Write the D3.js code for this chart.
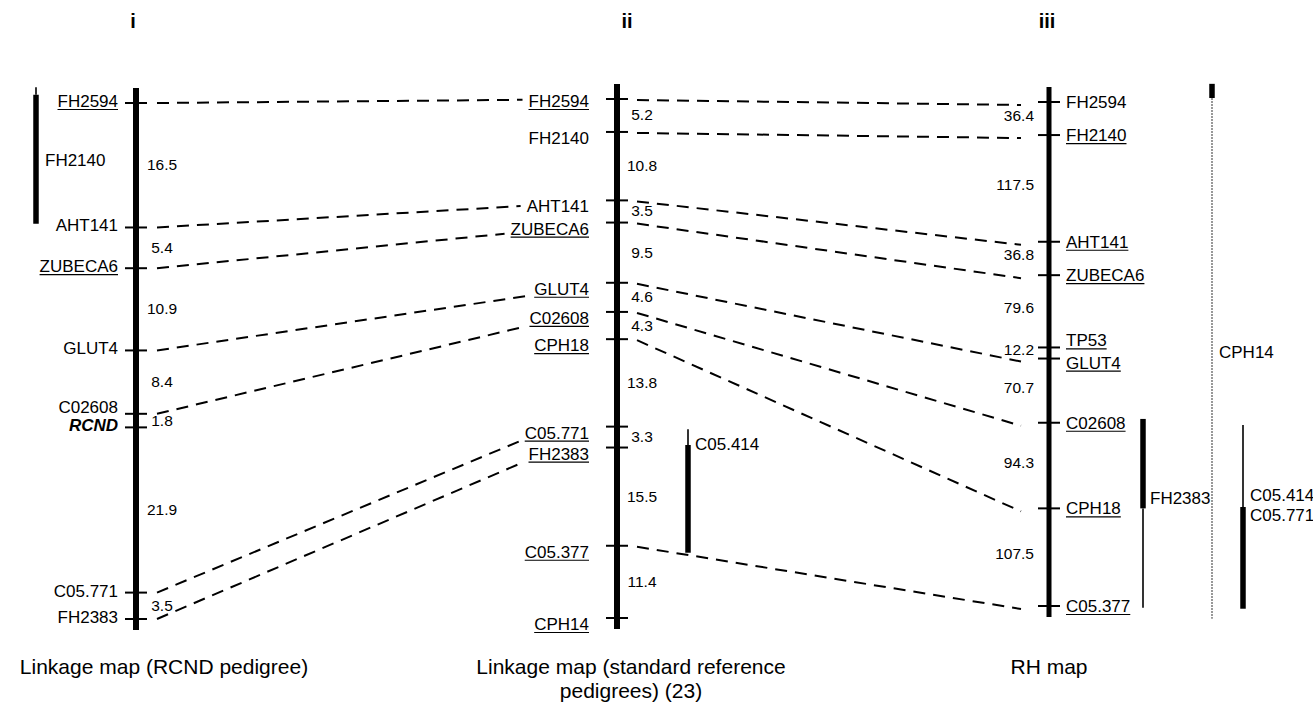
<!DOCTYPE html>
<html>
<head>
<meta charset="utf-8">
<script src="https://cdn.jsdelivr.net/npm/d3@7/dist/d3.min.js"></script>
<style>
  html, body { margin: 0; padding: 0; background: #fff; }
  svg { display: block; font-family: "Liberation Sans", Arial, Helvetica, sans-serif; }
</style>
</head>
<body>
<svg id="chart" width="1313" height="709"></svg>
<script>
// --- data: marker order and interval distances (cM for linkage maps, cR for RH map)
const mapIMarkers = ["FH2594", "AHT141", "ZUBECA6", "GLUT4", "C02608", "RCND", "C05.771", "FH2383"];
const mapIGaps = [16.5, 5.4, 10.9, 8.4, 1.8, 21.9, 3.5];
const mapIUnderlined = ["FH2594", "ZUBECA6"];

const mapIIMarkers = ["FH2594", "FH2140", "AHT141", "ZUBECA6", "GLUT4", "C02608", "CPH18", "C05.771", "FH2383", "C05.377", "CPH14"];
const mapIIGaps = [5.2, 10.8, 3.5, 9.5, 4.6, 4.3, 13.8, 3.3, 15.5, 11.4];
const mapIIUnderlined = ["FH2594", "ZUBECA6", "GLUT4", "C02608", "CPH18", "C05.771", "FH2383", "C05.377", "CPH14"];

const mapIIIMarkers = ["FH2594", "FH2140", "AHT141", "ZUBECA6", "TP53", "GLUT4", "C02608", "CPH18", "C05.377"];
const mapIIIGaps = [36.4, 117.5, 36.8, 79.6, 12.2, 70.7, 94.3, 107.5];
const mapIIIUnderlined = ["FH2140", "AHT141", "ZUBECA6", "TP53", "GLUT4", "C02608", "CPH18", "C05.377"];

// shared markers joined by dashed lines
const linksIToII = ["FH2594", "AHT141", "ZUBECA6", "GLUT4", "C02608", "C05.771", "FH2383"];
const linksIIToIII = ["FH2594", "FH2140", "AHT141", "ZUBECA6", "GLUT4", "C02608", "CPH18", "C05.377"];

// markers placed as intervals beside a map (in that map's units)
const barsI = [
  { labels: [["FH2140", 7.6]], thin: [-2.1, -1.1], thick: [-1.1, 16.0] }
];
const barsII = [
  { labels: [["C05.414", 54.4]], thin: [52.1, 54.6], thick: [54.6, 71.6] }
];
const barsIII = [
  { labels: [["FH2383", 436]], thick: [349, 447.5], thin: [447.5, 557] },
  { labels: [["CPH14", 275]], thick: [-20, -4.4], thin: [-4.4, 569], faint: true },
  { labels: [["C05.414", 433], ["C05.771", 455]], thin: [355.7, 446], thick: [446, 558] }
];

const panelNames = ["i", "ii", "iii"];
const mapTitles = [["Linkage map (RCND pedigree)"], ["Linkage map (standard reference", "pedigrees) (23)"], ["RH map"]];

// --- layout
const maps = [
  { markers: mapIMarkers, gaps: mapIGaps, underlined: mapIUnderlined, bars: barsI,
    x: 136, range: [103, 619], axisW: 6, side: -1, labelDx: -18, labelDy: 4,
    gapDx: 26, gapAnchor: "middle", gapDy: 5, barDx: [-100], titleX: 133, captionX: 164 },
  { markers: mapIIMarkers, gaps: mapIIGaps, underlined: mapIIUnderlined, bars: barsII,
    x: 617, range: [99, 618], axisW: 6, side: -1, labelDx: -28, labelDy: 12,
    gapDx: 25, gapAnchor: "middle", gapDy: 5, barDx: [71], titleX: 627, captionX: 631 },
  { markers: mapIIIMarkers, gaps: mapIIIGaps, underlined: mapIIIUnderlined, bars: barsIII,
    x: 1049, range: [102, 606], axisW: 5, side: 1, labelDx: 17, labelDy: 6,
    gapDx: -15, gapAnchor: "end", gapDy: 2, barDx: [94, 163, 194], titleX: 1047, captionX: 1049 }
];

const svg = d3.select("#chart");
svg.append("rect").attr("width", 1313).attr("height", 709).attr("fill", "#fff");

const linkLayer = svg.append("g");
const mapLayer = svg.append("g");

maps.forEach((m, mi) => {
  const pos = [0, ...d3.cumsum(m.gaps)];
  m.y = d3.scaleLinear().domain([0, d3.sum(m.gaps)]).range(m.range);
  m.pos = new Map(m.markers.map((d, i) => [d, pos[i]]));
  m.labelBox = new Map();
  m.baseline = new Map();

  const g = mapLayer.append("g");

  // chromosome axis
  g.append("line")
    .attr("x1", m.x).attr("x2", m.x)
    .attr("y1", m.y(0) - 15).attr("y2", m.y(d3.sum(m.gaps)) + 11)
    .attr("stroke", "#000").attr("stroke-width", m.axisW);

  // ticks
  g.selectAll(".tick").data(m.markers).join("line")
    .attr("x1", m.x - 11).attr("x2", m.x + 11)
    .attr("y1", d => m.y(m.pos.get(d))).attr("y2", d => m.y(m.pos.get(d)))
    .attr("stroke", "#000").attr("stroke-width", 2);

  // label nudges where ticks crowd together
  const nudge = m.markers.map(() => 0);
  if (mi !== 1) {
    for (let i = 0; i < m.markers.length - 1; i++) {
      const a = m.y(pos[i]), b = m.y(pos[i + 1]);
      if (b - a < 15) { nudge[i] -= (mi === 0 ? 5 : 7); nudge[i + 1] += (mi === 0 ? 0 : 4); }
    }
  } else {
    nudge[0] = -4;
  }

  // marker labels
  m.markers.forEach((name, i) => {
    const by = m.y(pos[i]) + m.labelDy + nudge[i];
    const t = g.append("text")
      .attr("x", m.x + m.labelDx)
      .attr("y", by)
      .attr("text-anchor", m.side < 0 ? "end" : "start")
      .attr("font-size", 17)
      .text(name);
    if (name === "RCND") t.attr("font-weight", "bold").attr("font-style", "italic");
    const bb = t.node().getBBox();
    m.labelBox.set(name, bb);
    m.baseline.set(name, by);
    if (m.underlined.includes(name)) {
      g.append("line")
        .attr("x1", bb.x).attr("x2", bb.x + bb.width)
        .attr("y1", by + 2.5).attr("y2", by + 2.5)
        .attr("stroke", "#000").attr("stroke-width", 1.2);
    }
  });

  // interval distances
  g.selectAll(".gap").data(m.gaps).join("text")
    .attr("x", m.x + m.gapDx)
    .attr("y", (d, i) => (m.y(pos[i]) + m.y(pos[i + 1])) / 2 + m.gapDy)
    .attr("text-anchor", m.gapAnchor)
    .attr("font-size", 15.5)
    .text(d => d.toFixed(1));

  // interval bars beside the map
  m.bars.forEach((b, bi) => {
    const bx = m.x + m.barDx[bi];
    g.append("line")
      .attr("x1", bx).attr("x2", bx)
      .attr("y1", m.y(b.thin[0])).attr("y2", m.y(b.thin[1]))
      .attr("stroke", b.faint ? "#555" : "#000")
      .attr("stroke-width", b.faint ? 1.2 : 1.6)
      .attr("stroke-dasharray", b.faint ? "2,1" : null);
    g.append("line")
      .attr("x1", bx).attr("x2", bx)
      .attr("y1", m.y(b.thick[0])).attr("y2", m.y(b.thick[1]))
      .attr("stroke", "#000").attr("stroke-width", 5.5);
    b.labels.forEach(([txt, at]) => {
      g.append("text")
        .attr("x", bx + (mi === 0 ? 9 : 7))
        .attr("y", m.y(at) + 6)
        .attr("font-size", 17)
        .text(txt);
    });
  });

  // panel numeral and caption
  svg.append("text")
    .attr("x", m.titleX).attr("y", 28)
    .attr("text-anchor", "middle")
    .attr("font-size", 20).attr("font-weight", "bold")
    .text(panelNames[mi]);

  mapTitles[mi].forEach((line, li) => {
    svg.append("text")
      .attr("x", m.captionX)
      .attr("y", 674 + li * 24)
      .attr("text-anchor", "middle")
      .attr("font-size", 21)
      .text(line);
  });
});

// --- dashed connectors
const dash = "12,8";
const [mI, mII, mIII] = maps;

linksIToII.forEach(name => {
  const x0 = mI.x + 21, y0 = mI.y(mI.pos.get(name));
  const xa = mII.x, ya = mII.y(mII.pos.get(name));
  const x1 = mII.labelBox.get(name).x - 6;
  const yAim = y0 + (ya - y0) * (x1 - x0) / (xa - x0);
  const y1 = Math.min(yAim, mII.baseline.get(name) + 3);
  linkLayer.append("line")
    .attr("x1", x0).attr("y1", y0).attr("x2", x1).attr("y2", y1)
    .attr("stroke", "#000").attr("stroke-width", 2).attr("stroke-dasharray", dash);
});

linksIIToIII.forEach(name => {
  linkLayer.append("line")
    .attr("x1", mII.x + 20).attr("y1", mII.y(mII.pos.get(name)) + 1)
    .attr("x2", mIII.x - 28).attr("y2", mIII.y(mIII.pos.get(name)) + 3)
    .attr("stroke", "#000").attr("stroke-width", 2).attr("stroke-dasharray", dash);
});
</script>
</body>
</html>
